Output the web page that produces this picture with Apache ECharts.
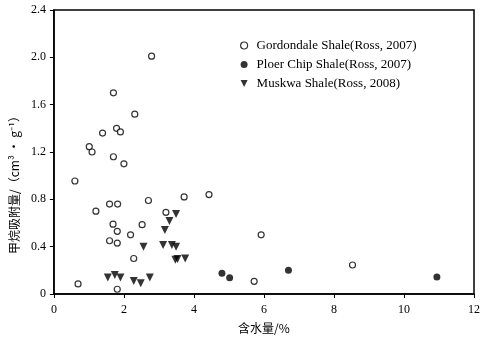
<!DOCTYPE html>
<html><head><meta charset="utf-8">
<script src="https://cdn.jsdelivr.net/npm/echarts@6/dist/echarts.min.js"></script>
<style>html,body{margin:0;padding:0;background:#fff}#c{width:483px;height:341px}</style>
</head><body><div id="c"></div>
<script>
const gordondale = [[2.79,2.01],[1.70,1.70],[2.31,1.52],[1.79,1.40],[1.90,1.37],[1.39,1.36],[1.01,1.245],[1.09,1.20],[1.70,1.16],[2.0,1.10],[0.60,0.955],[1.59,0.76],[1.82,0.76],[2.70,0.79],[3.72,0.82],[4.43,0.84],[1.20,0.70],[3.20,0.69],[1.69,0.59],[2.52,0.586],[1.81,0.53],[2.19,0.50],[1.59,0.45],[1.81,0.43],[2.28,0.30],[0.69,0.085],[1.81,0.04],[5.92,0.50],[8.53,0.245],[5.72,0.107]];
const ploerChip = [[4.80,0.175],[5.02,0.138],[6.70,0.20],[10.94,0.144]];
const muskwa = [[3.49,0.676],[3.30,0.617],[3.17,0.54],[2.56,0.40],[3.12,0.414],[3.37,0.414],[3.49,0.40],[3.47,0.29],[3.53,0.296],[3.75,0.30],[1.54,0.14],[1.74,0.16],[1.90,0.14],[2.28,0.11],[2.48,0.09],[2.74,0.14]];
const seriesNames = ['Gordondale Shale(Ross, 2007)','Ploer Chip Shale(Ross, 2007)','Muskwa Shale(Ross, 2008)'];
const xTitle = '含水量/%';
const yTitle = '甲烷吸附量/（cm³ · g⁻¹）';

const chart = echarts.init(document.getElementById('c'));
const serif = '"Liberation Serif","DejaVu Serif",serif';
const axisCommon = {
  axisLine:{show:true,lineStyle:{color:'#000',width:1.5}},
  axisTick:{show:true,inside:false,length:4,lineStyle:{color:'#000'}},
  splitLine:{show:false},
  axisLabel:{color:'#000',fontFamily:serif,fontSize:12,margin:10}
};
chart.setOption({
  animation:false,
  grid:{left:52,right:9,top:10,bottom:47,show:true,borderColor:'#000',borderWidth:1.5},
  legend:{
    orient:'vertical',left:235,top:34,itemGap:6,itemWidth:7,itemHeight:7,
    textStyle:{fontFamily:serif,fontSize:13,color:'#000',padding:[0,0,0,4]},
    data:[
      {name:seriesNames[0],icon:'circle',itemStyle:{color:'#fff',borderColor:'#000',borderWidth:1.2}},
      {name:seriesNames[1],icon:'circle'},
      {name:seriesNames[2],icon:'path://M0,0L10,0L5,10Z'}
    ]
  },
  xAxis:Object.assign({type:'value',min:0,max:12,interval:2,name:xTitle,nameLocation:'middle',nameGap:28,
    nameTextStyle:{fontFamily:'"Noto Sans CJK SC",sans-serif',fontSize:12,color:'#000'}},axisCommon),
  yAxis:Object.assign({type:'value',min:0,max:2.4,interval:0.4,name:yTitle,nameLocation:'middle',nameGap:31,nameRotate:90,
    nameTextStyle:{fontFamily:'"Noto Sans CJK SC",sans-serif',fontSize:12,color:'#000',padding:[0,60,0,0]}},axisCommon,
    {axisLabel:{color:'#000',fontFamily:serif,fontSize:12,margin:8,formatter:v=>v===0?'0':v.toFixed(1)}}),
  series:[
    {name:seriesNames[0],type:'scatter',data:gordondale,symbol:'circle',symbolSize:6,
      itemStyle:{color:'#fff',borderColor:'#000',borderWidth:1.2}},
    {name:seriesNames[1],type:'scatter',data:ploerChip,symbol:'circle',symbolSize:7,
      itemStyle:{color:'#000'}},
    {name:seriesNames[2],type:'scatter',data:muskwa,symbol:'path://M0,0L10,0L5,10Z',symbolSize:[8,8],
      itemStyle:{color:'#000'}}
  ]
});
</script></body></html>
